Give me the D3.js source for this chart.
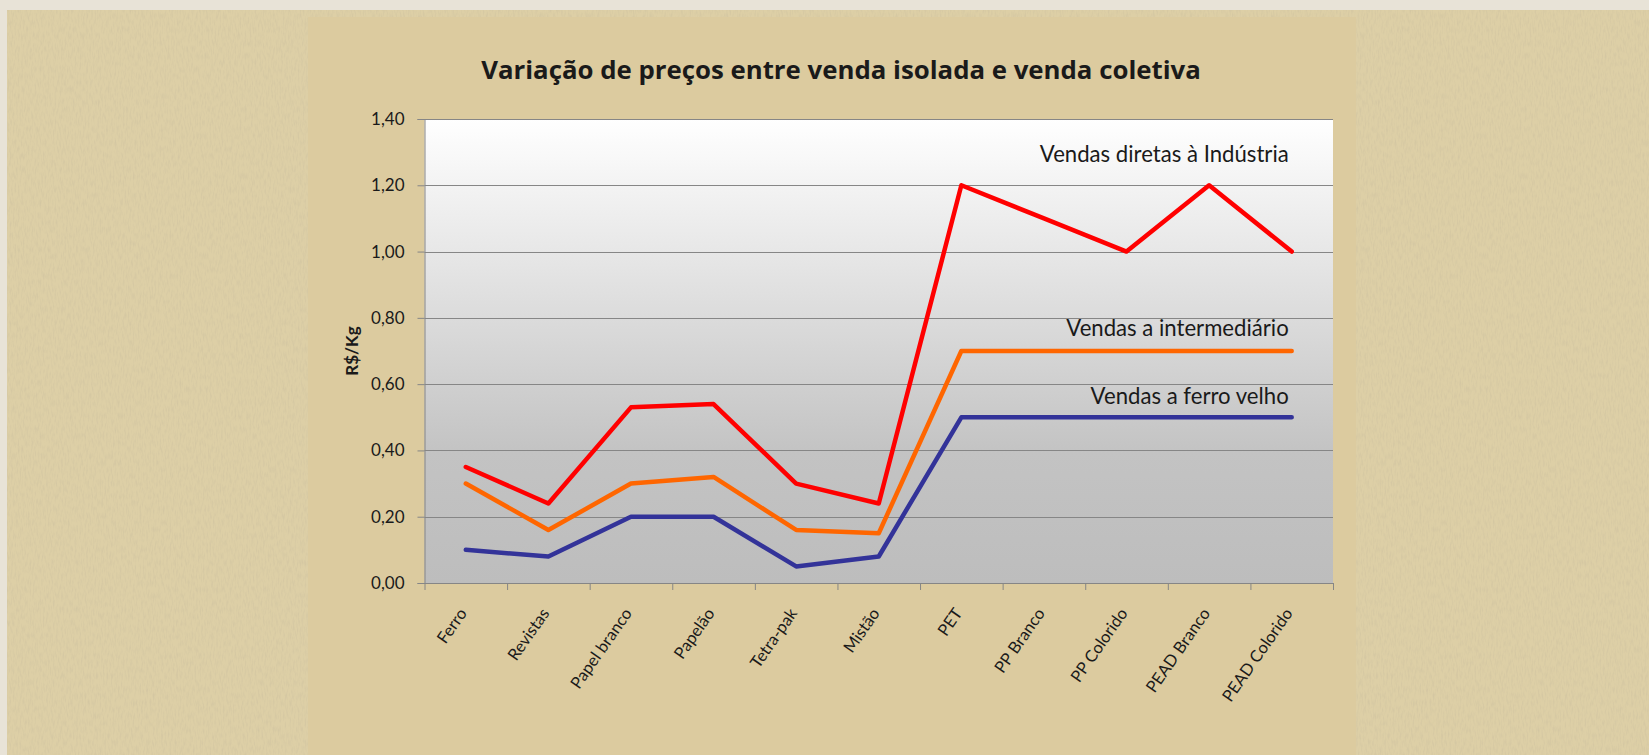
<!DOCTYPE html>
<html>
<head>
<meta charset="utf-8">
<script src="https://cdn.jsdelivr.net/npm/d3@7"></script>
<style>
    html, body { margin: 0; padding: 0; background: #e8e3d7; }
    svg { display: block; }
    text { font-family: Lato, "Open Sans", sans-serif; fill: #1a1a1a; }
</style>
</head>
<body>
<svg id="chart" width="1649" height="755"></svg>
<script>
const CATEGORIES = ['Ferro', 'Revistas', 'Papel branco', 'Papelão', 'Tetra-pak', 'Mistão',
    'PET', 'PP Branco', 'PP Colorido', 'PEAD Branco', 'PEAD Colorido'];

const INDUSTRIA = [0.35, 0.24, 0.53, 0.54, 0.30, 0.24, 1.20, 1.10, 1.00, 1.20, 1.00];
const INTERMEDIARIO = [0.30, 0.16, 0.30, 0.32, 0.16, 0.15, 0.70, 0.70, 0.70, 0.70, 0.70];
const FERRO_VELHO = [0.10, 0.08, 0.20, 0.20, 0.05, 0.08, 0.50, 0.50, 0.50, 0.50, 0.50];

const SERIES_NAMES = ['Vendas diretas à Indústria', 'Vendas a intermediário', 'Vendas a ferro velho'];
const SERIES_LABEL_Y = [1.27, 0.745, 0.54];
const SERIES_COLOURS = ['#ff0000', '#ff6600', '#333399'];

const Y_TICKS = [0, 0.2, 0.4, 0.6, 0.8, 1.0, 1.2, 1.4];

const TITLE = 'Variação de preços entre venda isolada e venda coletiva';
const Y_TITLE = 'R$/Kg';

const WIDTH = 1649;
const HEIGHT = 755;
const PLOT = { left: 424.5, right: 1333, top: 119, bottom: 583 };

const svg = d3.select('#chart');
const defs = svg.append('defs');

// scale a text's font size so that it spans the given width
const fitWidth = (selection, width) => {
    const node = selection.node();
    const size = parseFloat(selection.style('font-size'));
    selection.style('font-size', (size * width / node.getComputedTextLength()) + 'px');
    return parseFloat(selection.style('font-size'));
};

// paper texture for the page behind the chart
const noise = defs.append('filter').attr('id', 'paper')
    .attr('x', 0).attr('y', 0).attr('width', '100%').attr('height', '100%');
noise.append('feTurbulence')
    .attr('type', 'fractalNoise')
    .attr('baseFrequency', '0.6 0.15')
    .attr('numOctaves', 2)
    .attr('seed', 3);
noise.append('feColorMatrix')
    .attr('type', 'matrix')
    .attr('values', '0 0 0 0 0.55  0 0 0 0 0.48  0 0 0 0 0.33  0 0 0 -1.8 1.05');

const plotGradient = defs.append('linearGradient').attr('id', 'plotFill')
    .attr('x1', 0).attr('y1', 0).attr('x2', 0).attr('y2', 1);
plotGradient.append('stop').attr('offset', '0%').attr('stop-color', '#ffffff');
plotGradient.append('stop').attr('offset', '72%').attr('stop-color', '#c3c3c3');
plotGradient.append('stop').attr('offset', '100%').attr('stop-color', '#bdbdbd');

svg.append('rect').attr('width', WIDTH).attr('height', HEIGHT).attr('fill', '#e8e3d7');
svg.append('rect').attr('x', 7).attr('y', 10).attr('width', WIDTH - 7).attr('height', HEIGHT - 10)
    .attr('fill', '#ddcfa6');
svg.append('rect').attr('x', 7).attr('y', 10).attr('width', WIDTH - 7).attr('height', HEIGHT - 10)
    .attr('filter', 'url(#paper)').attr('opacity', 0.4);

// chart area
svg.append('rect').attr('x', 308).attr('y', 17).attr('width', 1356 - 308).attr('height', HEIGHT - 17)
    .attr('fill', '#dccb9f');

const x = d3.scaleBand().domain(CATEGORIES).range([PLOT.left, PLOT.right]);
const xEdges = d3.scaleLinear().domain([0, CATEGORIES.length]).range([PLOT.left, PLOT.right]);
const y = d3.scaleLinear().domain([0, 1.4]).range([PLOT.bottom, PLOT.top]);
const cx = c => x(c) + x.bandwidth() / 2;

const ptBR = d3.formatLocale({ decimal: ',', thousands: '.', grouping: [3], currency: ['R$', ''] });
const fmt = ptBR.format('.2f');

svg.append('rect')
    .attr('x', PLOT.left).attr('y', PLOT.top)
    .attr('width', PLOT.right - PLOT.left).attr('height', PLOT.bottom - PLOT.top)
    .attr('fill', 'url(#plotFill)');

// gridlines
svg.append('g')
    .selectAll('line')
    .data(Y_TICKS.filter(d => d > 0))
    .join('line')
    .attr('x1', PLOT.left).attr('x2', PLOT.right)
    .attr('y1', d => Math.round(y(d)) + 0.5).attr('y2', d => Math.round(y(d)) + 0.5)
    .attr('stroke', '#868686').attr('stroke-width', 1);

// y axis
const yAxis = svg.append('g')
    .attr('transform', `translate(${PLOT.left},0)`)
    .call(d3.axisLeft(y).tickValues(Y_TICKS).tickFormat(fmt).tickSize(7).tickPadding(13));
yAxis.selectAll('path, line').attr('stroke', '#868686');
yAxis.selectAll('text').style('font-family', 'Lato, sans-serif').style('font-size', '17px').attr('fill', '#1a1a1a');

// x axis
const xAxis = svg.append('g')
    .attr('transform', `translate(0,${PLOT.bottom})`)
    .call(d3.axisBottom(xEdges).tickValues(d3.range(CATEGORIES.length + 1)).tickFormat('').tickSize(7).tickSizeOuter(0));
xAxis.selectAll('path, line').attr('stroke', '#868686');

svg.append('g')
    .selectAll('text')
    .data(CATEGORIES)
    .join('text')
    .attr('transform', d => `translate(${cx(d) - 3},${PLOT.bottom + 27}) rotate(-55)`)
    .attr('text-anchor', 'end')
    .attr('dy', '0.35em')
    .style('font-size', '16.5px')
    .text(d => d);

// series lines
const line = d3.line()
    .x((d, i) => cx(CATEGORIES[i]))
    .y(d => y(d));

[INDUSTRIA, INTERMEDIARIO, FERRO_VELHO].forEach((values, i) => {
    svg.append('path')
        .attr('d', line(values))
        .attr('fill', 'none')
        .attr('stroke', SERIES_COLOURS[i])
        .attr('stroke-width', 4.5)
        .attr('stroke-linejoin', 'round')
        .attr('stroke-linecap', 'round');
});

// series labels
const seriesLabels = svg.append('g')
    .selectAll('text')
    .data(SERIES_NAMES)
    .join('text')
    .attr('x', cx(CATEGORIES[CATEGORIES.length - 1]) - 3)
    .attr('y', (d, i) => y(SERIES_LABEL_Y[i]))
    .attr('text-anchor', 'end')
    .style('font-size', '20px')
    .text(d => d);
const labelSize = fitWidth(seriesLabels.filter((d, i) => i === 0), 249);
seriesLabels.style('font-size', labelSize + 'px');

// titles
const title = svg.append('text')
    .attr('x', 841).attr('y', 79)
    .attr('text-anchor', 'middle')
    .style('font-family', '"Open Sans", sans-serif')
    .style('font-size', '24px').style('font-weight', 'bold')
    .text(TITLE);
fitWidth(title, 720);

svg.append('text')
    .attr('transform', `translate(358,${(PLOT.top + PLOT.bottom) / 2}) rotate(-90)`)
    .attr('text-anchor', 'middle')
    .style('font-size', '17px').style('font-weight', 'bold')
    .text(Y_TITLE);
</script>
</body>
</html>
